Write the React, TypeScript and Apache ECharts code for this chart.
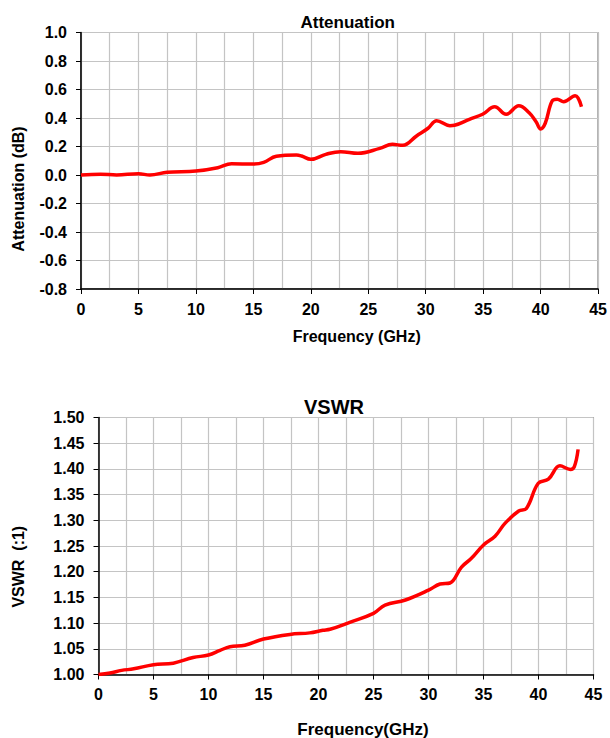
import React, { useEffect, useRef } from "react";
import * as echarts from "echarts";

// Attenuation chart data
const attFreq = [0, 1.7, 3.1, 5.0, 6.0, 7.5, 10.0, 11.9, 13.1, 15.0, 15.9, 17.0, 18.75, 19.2, 20.0, 21.3, 22.6, 24.1, 26.0, 27.1, 28.0, 29.2, 30.2, 30.95, 32.1, 32.5, 33.8, 34.95, 36.0, 37.0, 38.1, 39.0, 39.6, 40.0, 40.4, 41.0, 41.45, 42.0, 43.0, 43.55];
const attValues = [0.0, 0.006, 0.0, 0.009, 0.0, 0.019, 0.028, 0.051, 0.079, 0.077, 0.089, 0.131, 0.14, 0.133, 0.11, 0.145, 0.164, 0.152, 0.187, 0.215, 0.208, 0.274, 0.328, 0.381, 0.346, 0.349, 0.391, 0.426, 0.479, 0.426, 0.486, 0.437, 0.374, 0.323, 0.363, 0.519, 0.531, 0.514, 0.556, 0.479];

// VSWR chart data
const vswrFreq = [0, 1.05, 2.1, 3.2, 5.0, 6.8, 8.6, 10.0, 11.05, 11.95, 13.3, 15.0, 17.4, 19.2, 20.4, 21.05, 22.9, 25.0, 26.05, 27.9, 30.0, 31.05, 31.95, 33.0, 33.9, 35.0, 36.05, 36.95, 38.2, 38.9, 39.98, 40.9, 41.95, 42.9, 43.25, 43.6];
const vswrValues = [1.0, 1.003, 1.008, 1.011, 1.019, 1.022, 1.033, 1.038, 1.047, 1.054, 1.057, 1.069, 1.078, 1.081, 1.086, 1.088, 1.102, 1.119, 1.135, 1.145, 1.164, 1.176, 1.178, 1.209, 1.226, 1.252, 1.269, 1.294, 1.318, 1.323, 1.372, 1.38, 1.406, 1.399, 1.404, 1.438];

const xTicks = { min: 0, max: 45, interval: 5 };

const FONT = "'Liberation Sans', Arial, sans-serif";

function xAxisCfg(gridIndex: number) {
  return {
    type: "value",
    gridIndex,
    min: xTicks.min,
    max: xTicks.max,
    interval: xTicks.interval,
    axisLine: { show: true, onZero: false, lineStyle: { color: "#000", width: 1.5 } },
    axisTick: { show: true, inside: false, length: 5, lineStyle: { color: "#000", width: 1 } },
    axisLabel: { margin: 12, fontFamily: FONT, fontWeight: "bold", fontSize: 16, color: "#000" },
    splitLine: { show: true, lineStyle: { color: "#c4c4c4", width: 1.2 } },
    minorTick: { show: false, splitNumber: 2 },
    minorSplitLine: { show: true, lineStyle: { color: "#c4c4c4", width: 1.2 } },
  };
}

function yAxisCfg(gridIndex: number, min: number, max: number, interval: number, digits: number) {
  return {
    type: "value",
    gridIndex,
    min,
    max,
    interval,
    axisLine: { show: true, onZero: false, lineStyle: { color: "#000", width: 1.5 } },
    axisTick: { show: true, inside: false, length: 5, lineStyle: { color: "#000", width: 1 } },
    axisLabel: {
      margin: 14,
      fontFamily: FONT,
      fontWeight: "bold",
      fontSize: 16,
      color: "#000",
      formatter: (v: number) => v.toFixed(digits),
    },
    splitLine: { show: true, lineStyle: { color: "#c4c4c4", width: 1.2 } },
  };
}

function textEl(text: string, x: number, y: number, size: number, rotate = 0) {
  return {
    type: "text",
    x,
    y,
    rotation: rotate,
    style: {
      text,
      x: 0,
      y: 0,
      align: "center",
      verticalAlign: "middle",
      fontFamily: FONT,
      fontWeight: "bold",
      fontSize: size,
      fill: "#000",
    },
  };
}

export default function App() {
  const ref = useRef<HTMLDivElement>(null);
  useEffect(() => {
    if (!ref.current) return;
    const chart = echarts.init(ref.current, undefined, { renderer: "svg" });
    const attData = attFreq.map((f, i) => [f, attValues[i]]);
    const vswrData = vswrFreq.map((f, i) => [f, vswrValues[i]]);
    chart.setOption({
      animation: false,
      backgroundColor: "#fff",
      grid: [
        { left: 81, top: 32.5, width: 518.5, height: 256.5, show: true, borderColor: "#444", borderWidth: 1, backgroundColor: "transparent" },
        { left: 98.5, top: 417.5, width: 495, height: 257, show: true, borderColor: "#444", borderWidth: 1, backgroundColor: "transparent" },
      ],
      xAxis: [xAxisCfg(0), xAxisCfg(1)],
      yAxis: [yAxisCfg(0, -0.8, 1.0, 0.2, 1), yAxisCfg(1, 1.0, 1.5, 0.05, 2)],
      series: [
        {
          type: "line",
          xAxisIndex: 0,
          yAxisIndex: 0,
          data: attData,
          smooth: 0.4,
          showSymbol: false,
          lineStyle: { color: "#ff0000", width: 3.5 },
        },
        {
          type: "line",
          xAxisIndex: 1,
          yAxisIndex: 1,
          data: vswrData,
          smooth: 0.4,
          showSymbol: false,
          lineStyle: { color: "#ff0000", width: 3.5 },
        },
      ],
      graphic: [
        textEl("Attenuation", 347.7, 22.5, 17),
        textEl("Frequency (GHz)", 356.7, 336.7, 16),
        textEl("Attenuation (dB)", 18.3, 189, 16, Math.PI / 2),
        textEl("VSWR", 334, 406.5, 20),
        textEl("Frequency(GHz)", 363, 729, 17),
        textEl("VSWR  (:1)", 18.6, 566.7, 16, Math.PI / 2),
      ],
    });
    return () => chart.dispose();
  }, []);
  return (
    <div
      ref={ref}
      style={{ position: "fixed", left: 0, top: 0, width: 610, height: 738, background: "#fff" }}
    />
  );
}
